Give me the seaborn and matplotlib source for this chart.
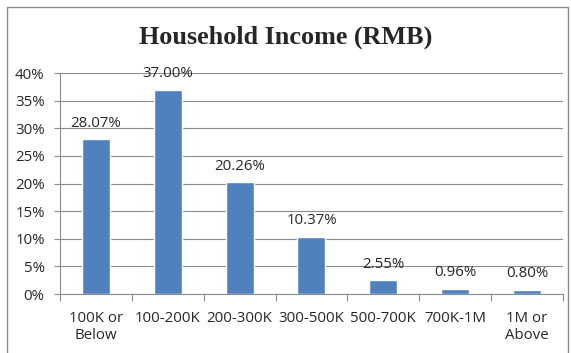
import matplotlib
matplotlib.use("Agg")
import matplotlib.pyplot as plt
import seaborn as sns
import pandas as pd
from matplotlib.patches import Rectangle
from matplotlib.ticker import FixedLocator, FuncFormatter

categories = ["100K or\nBelow", "100-200K", "200-300K", "300-500K", "500-700K", "700K-1M", "1M or\nAbove"]
shares = [28.07, 37.00, 20.26, 10.37, 2.55, 0.96, 0.80]
y_ticks = [0, 5, 10, 15, 20, 25, 30, 35, 40]

df = pd.DataFrame({"bracket": categories, "share": shares})

sns.set_theme(style="white")
plt.rcParams["font.family"] = ["Open Sans", "DejaVu Sans"]

fig = plt.figure(figsize=(5.71, 3.53), dpi=100)
ax = fig.add_axes([0.105, 0.167, 0.881, 0.626])

sns.barplot(data=df, x="bracket", y="share", color="#4F81BD", saturation=1,
            width=0.39, ax=ax, zorder=3)

ax.set_ylim(0, 40)
ax.set_xlim(-0.5, len(categories) - 0.5)
ax.yaxis.set_major_locator(FixedLocator(y_ticks))
ax.yaxis.set_major_formatter(FuncFormatter(lambda v, _: f"{v:.0f}%"))
ax.grid(axis="y", color="#8c8c8c", linewidth=0.8, zorder=0)
ax.set_axisbelow(True)
ax.set_xlabel("")
ax.set_ylabel("")

for side in ("top", "right"):
    ax.spines[side].set_visible(False)
ax.spines["left"].set_color("#8c8c8c")
ax.spines["bottom"].set_color("#8c8c8c")
ax.spines["left"].set_linewidth(0.8)
ax.spines["bottom"].set_linewidth(0.8)

fs = 10.8
ax.tick_params(axis="y", which="major", length=4, color="#8c8c8c", width=0.8,
               labelsize=fs, labelcolor="#262626", pad=7, left=True)
ax.tick_params(axis="x", which="major", length=0, labelsize=fs,
               labelcolor="#262626", pad=12)
for lbl in ax.get_xticklabels():
    lbl.set_linespacing(1.25)
ax.xaxis.set_minor_locator(FixedLocator([i - 0.5 for i in range(len(categories) + 1)]))
ax.tick_params(axis="x", which="minor", length=5, color="#8c8c8c", width=0.8, bottom=True)

ax.bar_label(ax.containers[0], labels=[f"{v:.2f}%" for v in shares],
             padding=6, fontsize=fs, color="#262626")

fig.text(0.5, 0.893, "Household Income (RMB)", ha="center", va="center",
         fontsize=18.8, fontweight="bold", family=["Liberation Serif", "DejaVu Serif"])

# outer chart frame
fig.patches.append(Rectangle((7 / 571, -0.05), 561 / 571, 1 - 7 / 353 + 0.05,
                             transform=fig.transFigure, fill=False,
                             edgecolor="#8c8c8c", linewidth=1.0))

fig.savefig("out.png", dpi=100)
